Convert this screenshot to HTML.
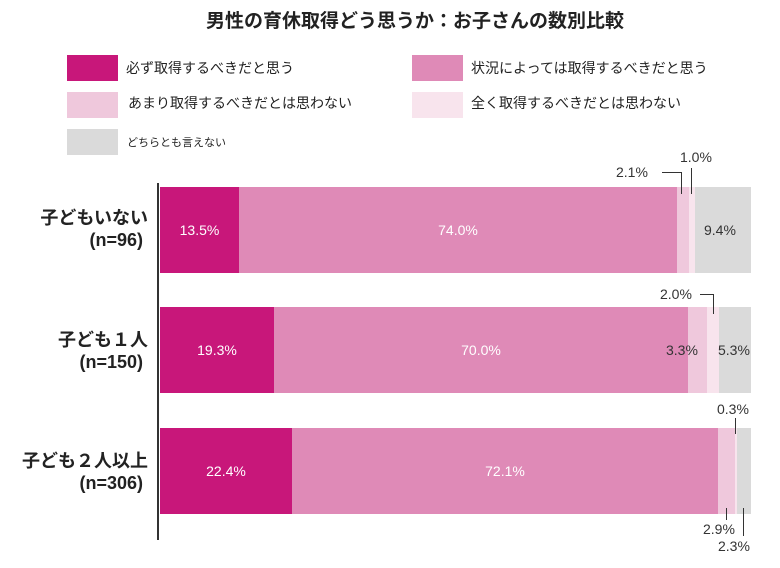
<!DOCTYPE html>
<html><head><meta charset="utf-8"><style>
body{margin:0;width:780px;height:568px;background:#fff;position:relative;font-family:"Liberation Sans","Noto Sans CJK JP",sans-serif;color:#222;overflow:hidden}
div{position:absolute}
.t{white-space:nowrap}
.sw{width:51px;height:26px}
.lg{font-size:14px;line-height:26px}
.b{height:86px;top:0}
.bl{font-size:14px;color:#fff;line-height:86px;text-align:center}
.dk{font-size:14px;color:#333;white-space:nowrap}
.ln{background:#333}
.rl{left:0;width:148px;text-align:right;font-size:18px;font-weight:bold;line-height:22px}
</style></head><body>
<div class="t" style="left:0;width:830px;text-align:center;top:6px;font-size:19px;font-weight:bold;color:#222">男性の育休取得どう思うか：お子さんの数別比較</div>

<div class="sw" style="left:67px;top:55px;background:#c8177a"></div>
<div class="t lg" style="left:126px;top:55px">必ず取得するべきだと思う</div>
<div class="sw" style="left:412px;top:55px;background:#df8ab7"></div>
<div class="t lg" style="left:471px;top:55px">状況によっては取得するべきだと思う</div>
<div class="sw" style="left:67px;top:92px;background:#efc8dc"></div>
<div class="t lg" style="left:128px;top:90px">あまり取得するべきだとは思わない</div>
<div class="sw" style="left:412px;top:92px;background:#f8e4ed"></div>
<div class="t lg" style="left:471px;top:90px">全く取得するべきだとは思わない</div>
<div class="sw" style="left:67px;top:129px;background:#dadada"></div>
<div class="t" style="left:127px;top:134px;font-size:11px">どちらとも言えない</div>

<div style="left:157px;top:183px;width:2px;height:357px;background:#333"></div>

<div class="t rl" style="top:207px">子どもいない<br>(n=96)&nbsp;</div>
<div class="t rl" style="top:329px">子ども１人<br>(n=150)&nbsp;</div>
<div class="t rl" style="top:450px">子ども２人以上<br>(n=306)&nbsp;</div>

<!-- bar1 -->
<div style="left:160px;top:187px;width:591px;height:86px">
<div class="b bl" style="left:0;width:79px;background:#c8177a">13.5%</div>
<div class="b bl" style="left:79px;width:438px;background:#df8ab7">74.0%</div>
<div class="b" style="left:517px;width:12px;background:#efc8dc"></div>
<div class="b" style="left:529px;width:6px;background:#f8e4ed"></div>
<div class="b" style="left:535px;width:56px;background:#dadada"></div>
<div class="dk" style="left:544px;top:35px">9.4%</div>
</div>
<div class="dk" style="left:616px;top:164px">2.1%</div>
<div class="ln" style="left:662px;top:172px;width:20px;height:1px"></div>
<div class="ln" style="left:681px;top:172px;width:1px;height:22px"></div>
<div class="dk" style="left:680px;top:149px">1.0%</div>
<div class="ln" style="left:691px;top:168px;width:1px;height:26px"></div>

<!-- bar2 -->
<div style="left:160px;top:307px;width:591px;height:86px">
<div class="b bl" style="left:0;width:114px;background:#c8177a">19.3%</div>
<div class="b bl" style="left:114px;width:414px;background:#df8ab7">70.0%</div>
<div class="b" style="left:528px;width:19px;background:#efc8dc"></div>
<div class="b" style="left:547px;width:12px;background:#f8e4ed"></div>
<div class="b" style="left:559px;width:32px;background:#dadada"></div>
<div class="dk" style="left:506px;top:35px">3.3%</div>
<div class="dk" style="left:558px;top:35px">5.3%</div>
</div>
<div class="dk" style="left:660px;top:286px">2.0%</div>
<div class="ln" style="left:700px;top:294px;width:14px;height:1px"></div>
<div class="ln" style="left:713px;top:294px;width:1px;height:20px"></div>

<!-- bar3 -->
<div style="left:160px;top:428px;width:591px;height:86px">
<div class="b bl" style="left:0;width:132px;background:#c8177a">22.4%</div>
<div class="b bl" style="left:132px;width:426px;background:#df8ab7">72.1%</div>
<div class="b" style="left:558px;width:17px;background:#efc8dc"></div>
<div class="b" style="left:575px;width:2px;background:#f8e4ed"></div>
<div class="b" style="left:577px;width:14px;background:#dadada"></div>
</div>
<div class="dk" style="left:717px;top:401px">0.3%</div>
<div class="ln" style="left:735px;top:418px;width:1px;height:16px"></div>
<div class="ln" style="left:726px;top:508px;width:1px;height:12px"></div>
<div class="dk" style="left:703px;top:521px">2.9%</div>
<div class="ln" style="left:743px;top:508px;width:1px;height:28px"></div>
<div class="dk" style="left:718px;top:538px">2.3%</div>
</body></html>
